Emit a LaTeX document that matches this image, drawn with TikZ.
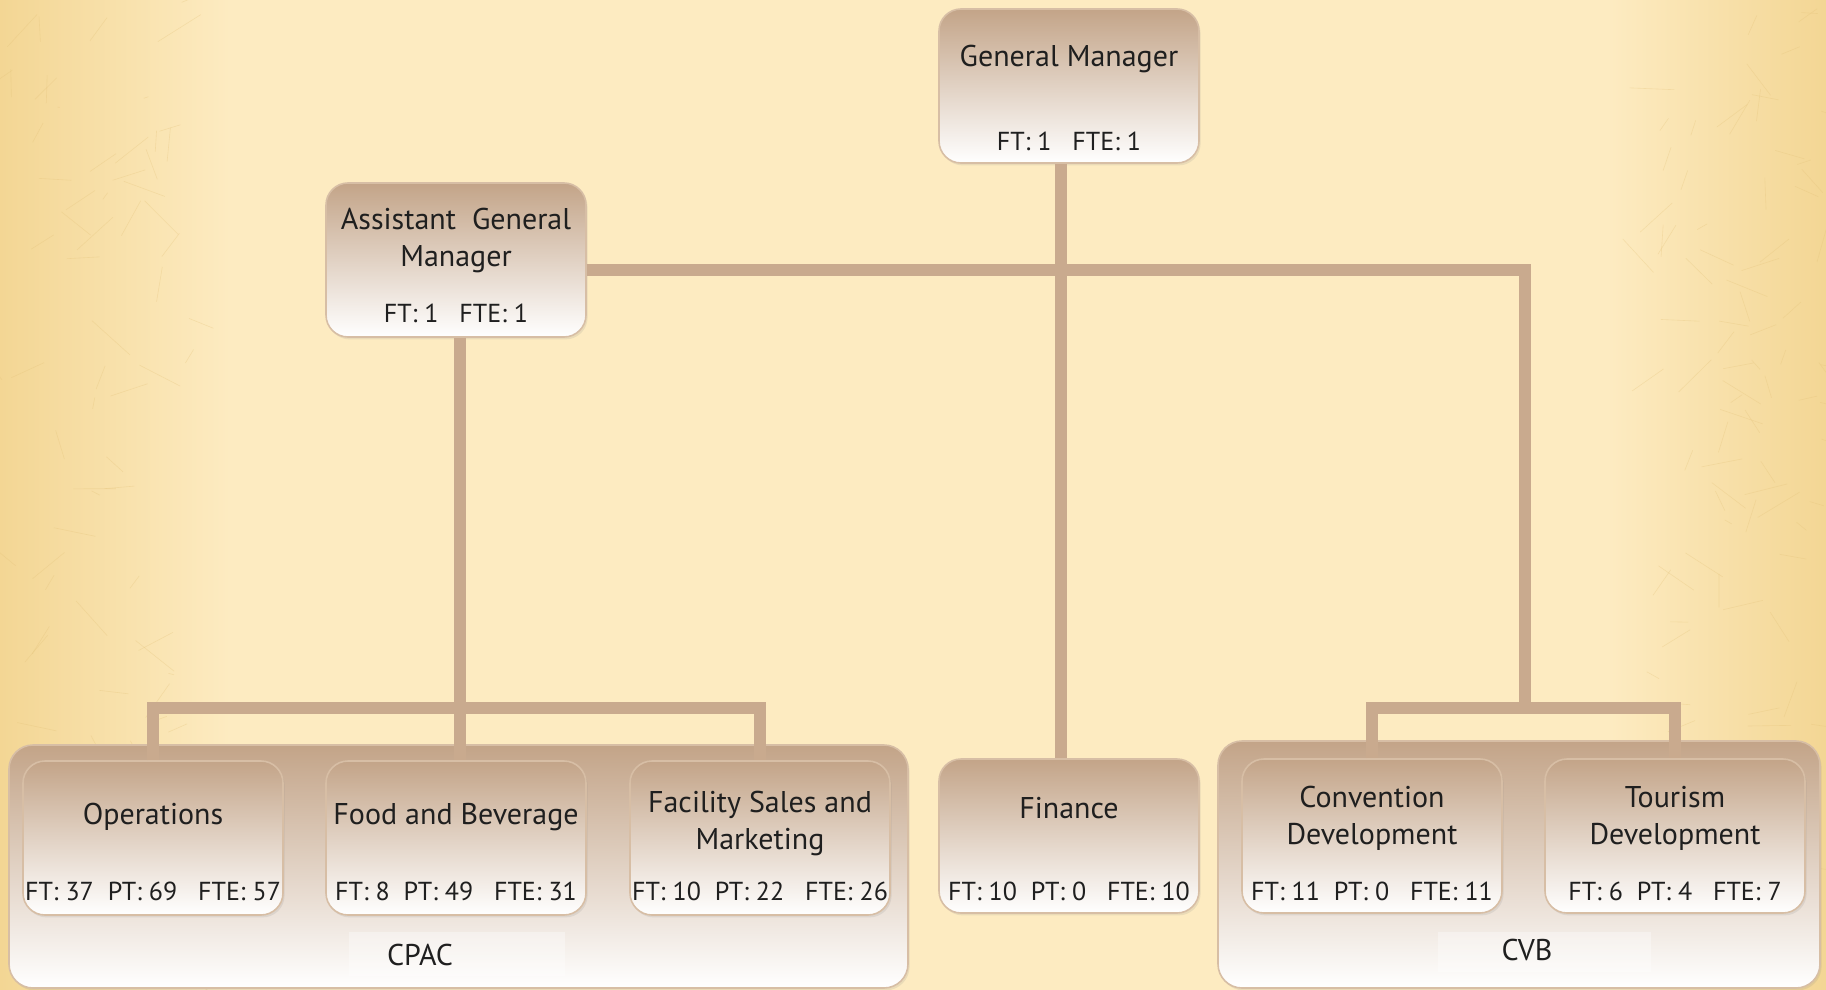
\documentclass[tikz,border=0pt]{standalone}
\usepackage{fontspec}
\setmainfont{PT Sans}
\usetikzlibrary{shadows}

\definecolor{paper}{RGB}{253,235,193}
\definecolor{paperedge}{RGB}{243,214,148}
\definecolor{scratch}{RGB}{226,192,118}
\definecolor{boxtop}{RGB}{195,164,136}
\definecolor{boxline}{RGB}{215,190,165}
\definecolor{conn}{RGB}{201,170,142}

\begin{document}
\begin{tikzpicture}[x=0.5pt, y=-0.5pt,
    box/.style = {draw=boxline, line width=0.8pt, rounded corners=11pt, top color=boxtop, bottom color=white,
                  minimum width=130pt, minimum height=77pt, inner sep=0pt,
                  drop shadow={opacity=0.15, shadow xshift=0.8pt, shadow yshift=-1.2pt}},
    group/.style = {box, rounded corners=12pt},
    title/.style = {align=center, font=\fontsize{15}{18.5}\selectfont, text=black!88},
    stats/.style = {font=\fontsize{13}{16}\selectfont, text=black!88},
    conn/.style = {draw=conn, line width=6pt}]

    \useasboundingbox (0,0) rectangle (1826,990);

    % paper
    \begin{scope}
        \clip (0,0) rectangle (1826,990);
        \fill[paper] (0,0) rectangle (1826,990);
        \shade[left color=paperedge, right color=paper] (0,0) rectangle (230,990);
        \shade[left color=paper, right color=paperedge] (1610,0) rectangle (1826,990);
        \pgfmathsetseed{12}
        \foreach \k in {1,...,90} {
            \draw[scratch, opacity=0.3, line width=0.3pt] ({rnd*190},{rnd*990}) -- ++({rand*45},{rand*35});
            \draw[scratch, opacity=0.3, line width=0.3pt] ({1650+rnd*176},{rnd*990}) -- ++({rand*45},{rand*35});
        }
    \end{scope}

    % top
    \node[box] (gm) at (1069,86) {};
    \node[title] (gmT) at (1069,59) {General Manager};
    \node[stats] (gmS) at (1069,141) {FT: 1\ \ \ FTE: 1};

    \node[box] (agm) at (456,260) {};
    \node[title] (agmT) at (456,240) {Assistant\ \ General\\Manager};
    \node[stats] (agmS) at (456,313) {FT: 1\ \ \ FTE: 1};

    % groups
    \node[group, minimum width=449.5pt, minimum height=121.5pt] (cpacgrp) at (458.5,866.5) {};
    \node[group, minimum width=301pt, minimum height=123.5pt] (cvbgrp) at (1519,864.5) {};
    \fill[white, opacity=0.35] (349,932) rectangle (565,976);
    \fill[white, opacity=0.35] (1438,932) rectangle (1651,972);
    \node[title] (cpac) at (420,955) {CPAC};
    \node[title] (cvb) at (1527,950) {CVB};

    % departments
    \node[box] (ops) at (153,838) {};
    \node[title] (opsT) at (153,817) {Operations};
    \node[stats] (opsS) at (153,891) {FT: 37\ \ PT: 69\ \ \ FTE: 57};

    \node[box] (fab) at (456,838) {};
    \node[title] (fabT) at (456,817) {Food and Beverage};
    \node[stats] (fabS) at (456,891) {FT: 8\ \ PT: 49\ \ \ FTE: 31};

    \node[box] (fsm) at (760,838) {};
    \node[title] (fsmT) at (760,823) {Facility Sales and\\Marketing};
    \node[stats] (fsmS) at (760,891) {FT: 10\ \ PT: 22\ \ \ FTE: 26};

    \node[box] (fin) at (1069,836) {};
    \node[title] (finT) at (1069,808) {Finance};
    \node[stats] (finS) at (1069,891) {FT: 10\ \ PT: 0\ \ \ FTE: 10};

    \node[box] (con) at (1372,836) {};
    \node[title] (conT) at (1372,818) {Convention\\Development};
    \node[stats] (conS) at (1372,891) {FT: 11\ \ PT: 0\ \ \ FTE: 11};

    \node[box] (tour) at (1675,836) {};
    \node[title] (tourT) at (1675,818) {Tourism\\Development};
    \node[stats] (tourS) at (1675,891) {FT: 6\ \ PT: 4\ \ \ FTE: 7};

    % lines
    \coordinate (cpacjoin) at (460,708);
    \coordinate (cvbjoin) at (1525,708);

    \draw[conn] ([xshift=-4pt]gm.south) -- ([xshift=-4pt]fin.north);
    \draw[conn] ([yshift=-5pt]agm.east) -| (cvbjoin);
    \draw[conn] ([xshift=2pt]agm.south) -- (cpacjoin);
    \draw[conn] (ops.north) -- (ops.north |- cpacjoin) -- (fsm.north |- cpacjoin) -- (fsm.north);
    \draw[conn] (cpacjoin) -- (cpacjoin |- fab.north);
    \draw[conn] (con.north) -- (con.north |- cvbjoin) -- (tour.north |- cvbjoin) -- (tour.north);
\end{tikzpicture}
\end{document}
